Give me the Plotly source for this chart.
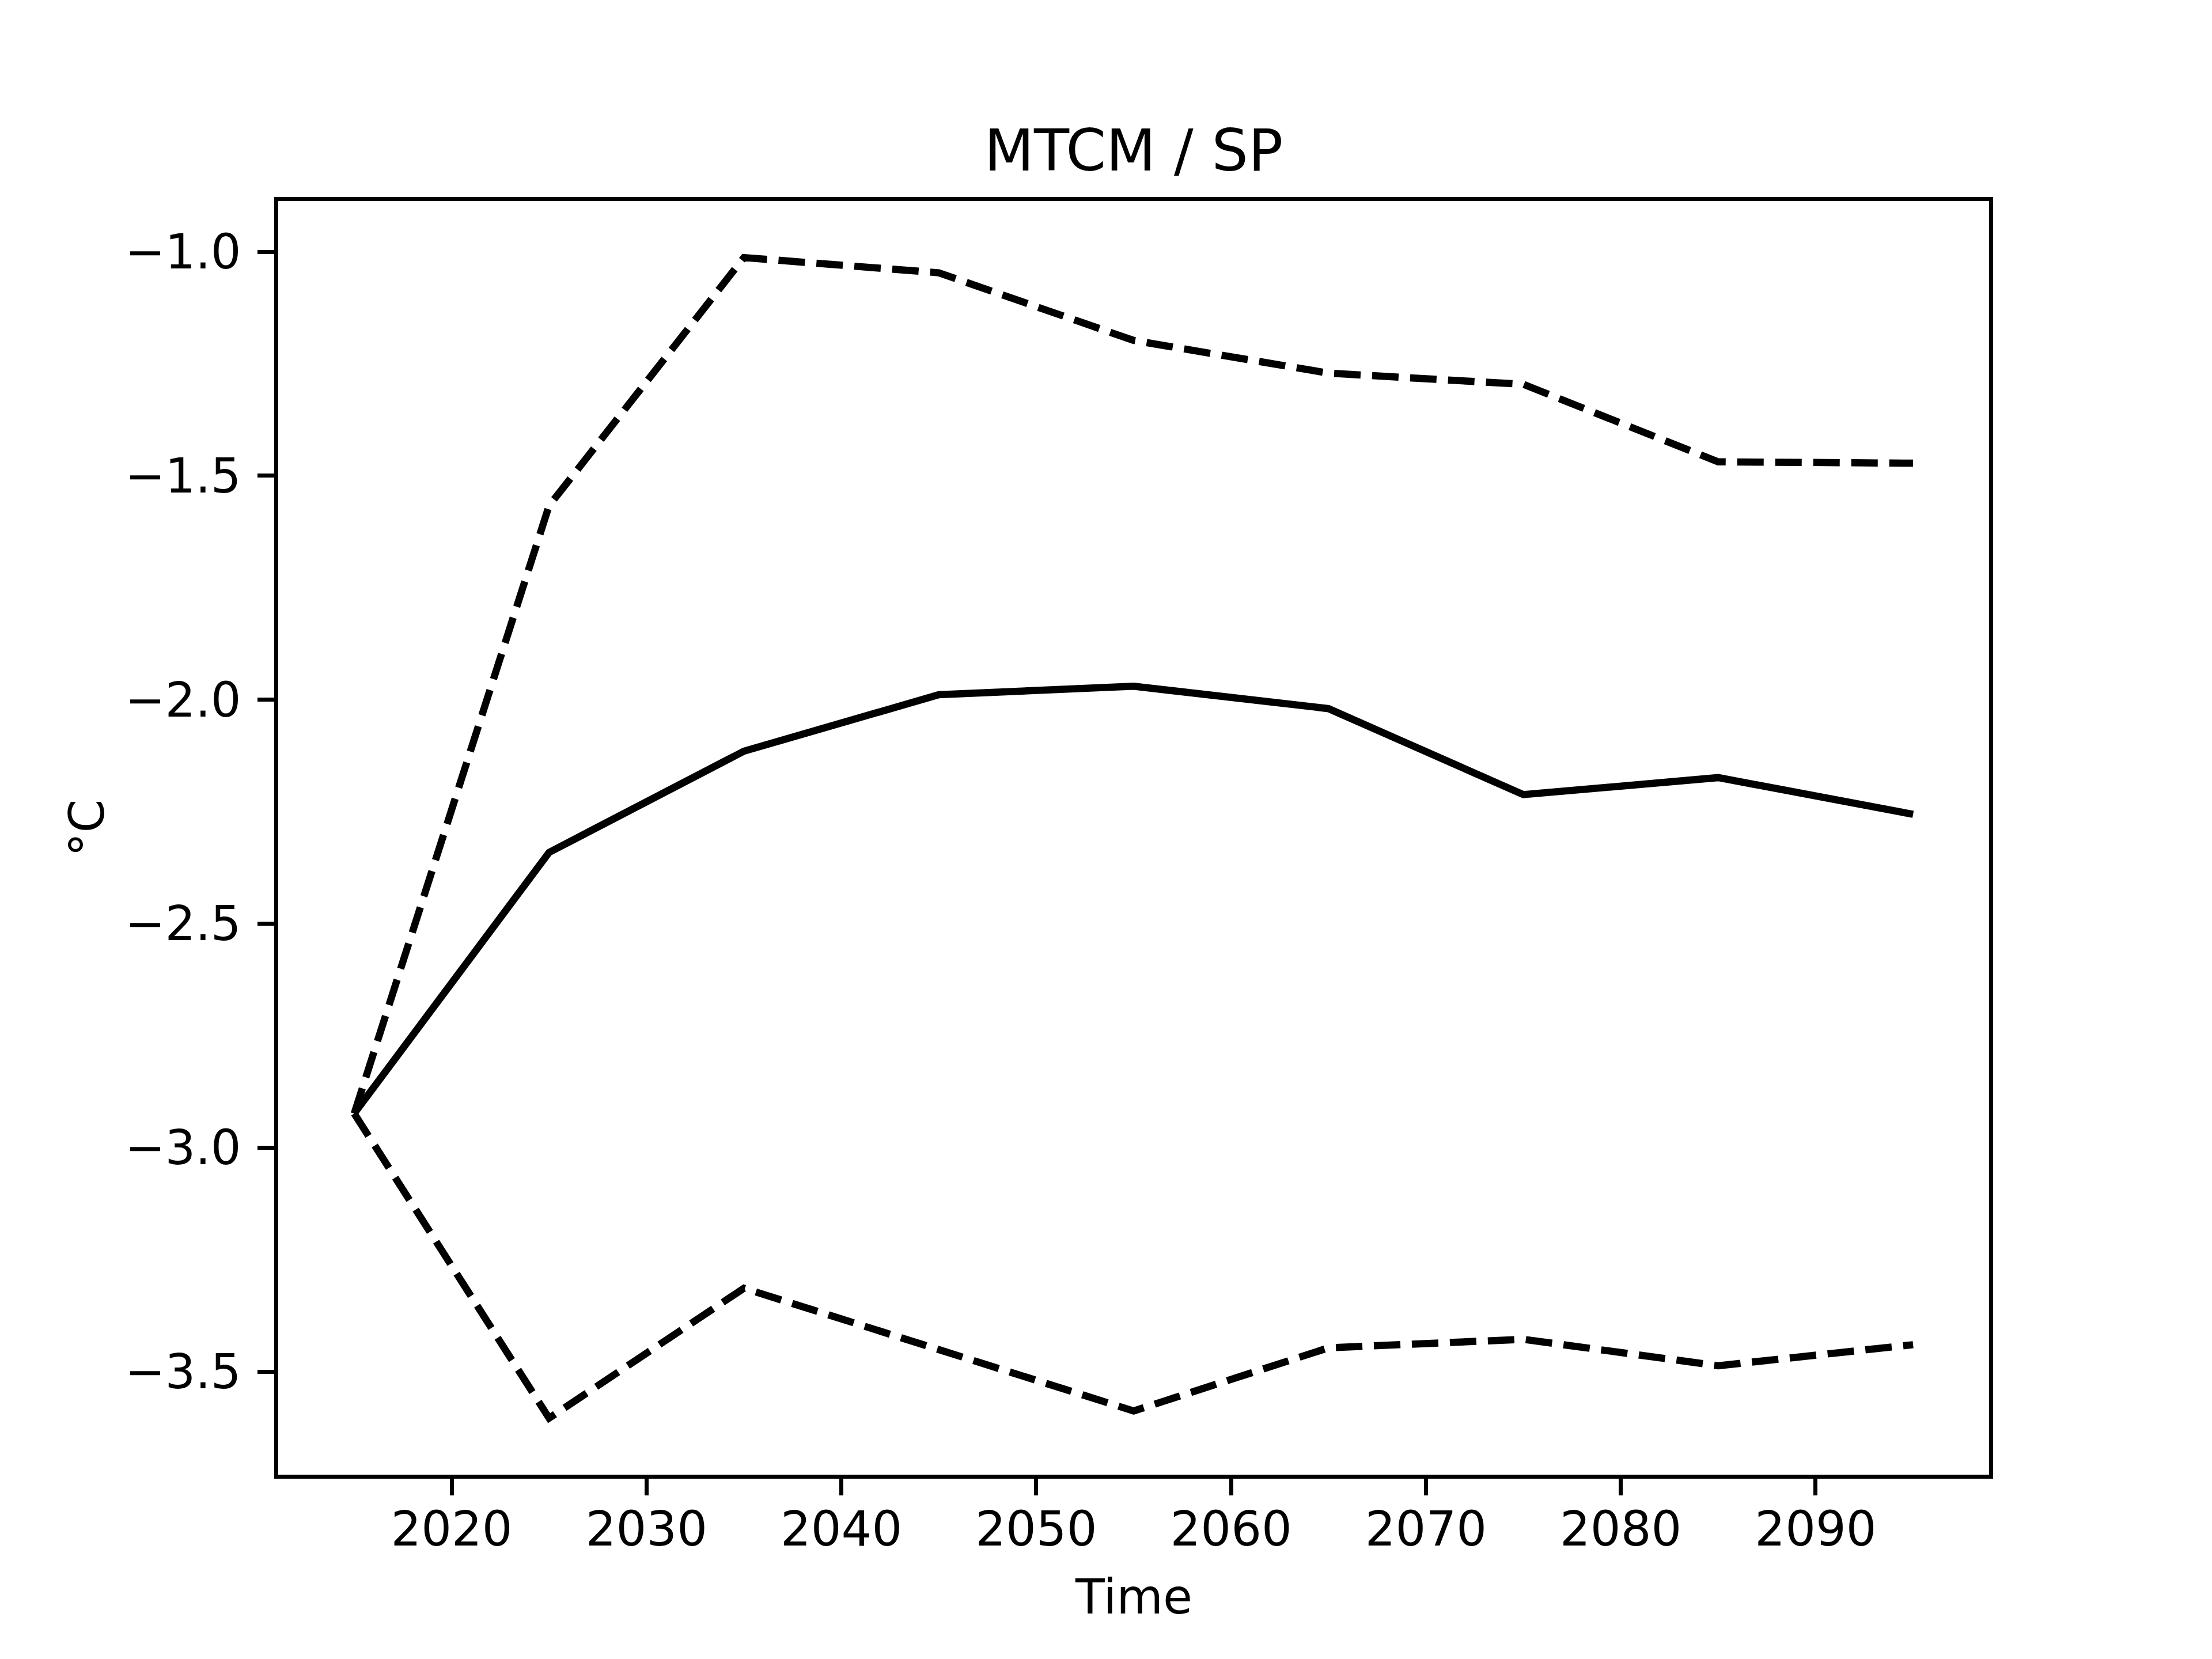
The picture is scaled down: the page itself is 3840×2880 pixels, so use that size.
import plotly.graph_objects as go

years = [2015, 2025, 2035, 2045, 2055, 2065, 2075, 2085, 2095]
mean_vals = [-2.924, -2.341, -2.115, -1.989, -1.970, -2.020, -2.212, -2.174, -2.256]
upper_vals = [-2.924, -1.567, -1.013, -1.047, -1.198, -1.271, -1.296, -1.469, -1.472]
lower_vals = [-2.924, -3.604, -3.314, -3.453, -3.588, -3.447, -3.428, -3.487, -3.440]

x_ticks = [2020, 2030, 2040, 2050, 2060, 2070, 2080, 2090]
y_ticks = [-3.5, -3.0, -2.5, -2.0, -1.5, -1.0]
y_ticktext = ["\u22123.5", "\u22123.0", "\u22122.5", "\u22122.0", "\u22121.5", "\u22121.0"]

W, H = 3840, 2880
L, R, T, B = 475, 395, 341, 328
font = "DejaVu Sans"
lw = 12.5

fig = go.Figure()
fig.add_trace(go.Scatter(x=years, y=upper_vals, mode="lines",
                         line=dict(color="black", width=lw, dash="46px,20px")))
fig.add_trace(go.Scatter(x=years, y=mean_vals, mode="lines",
                         line=dict(color="black", width=lw)))
fig.add_trace(go.Scatter(x=years, y=lower_vals, mode="lines",
                         line=dict(color="black", width=lw, dash="46px,20px")))

pw = W - L - R
ph = H - T - B
fig.update_layout(
    width=W, height=H,
    margin=dict(l=L, r=R, t=T, b=B, pad=0),
    paper_bgcolor="white", plot_bgcolor="white",
    showlegend=False,
    font=dict(family=font, size=83, color="black"),
    title=dict(text="MTCM / SP", x=0.5, xref="paper",
               y=1 - 288 / H, yref="container", yanchor="bottom", xanchor="center",
               font=dict(size=100, family=font, color="black")),
    xaxis=dict(range=[2011.1, 2098.9], tickvals=x_ticks, ticktext=[str(v) for v in x_ticks],
               showgrid=False, zeroline=False, showline=True, linecolor="black",
               linewidth=6.7, mirror=True, ticks="outside", ticklen=29, tickwidth=6.7,
               tickcolor="black", ticklabelstandoff=-12),
    yaxis=dict(range=[-3.7302, -0.8868], tickvals=y_ticks, ticktext=y_ticktext,
               showgrid=False, zeroline=False, showline=True, linecolor="black",
               linewidth=6.7, mirror=True, ticks="outside", ticklen=29, tickwidth=6.7,
               tickcolor="black", ticklabelstandoff=12),
    annotations=[
        dict(text="Time", xref="paper", yref="paper", x=0.5, y=-212 / ph,
             xanchor="center", yanchor="middle", showarrow=False,
             font=dict(size=83, family=font, color="black")),
        dict(text="°C", xref="paper", yref="paper", x=-331 / pw, y=0.5075,
             xanchor="center", yanchor="middle", textangle=-90, showarrow=False,
             font=dict(size=83, family=font, color="black")),
    ],
)

fig.write_html("out.html")
